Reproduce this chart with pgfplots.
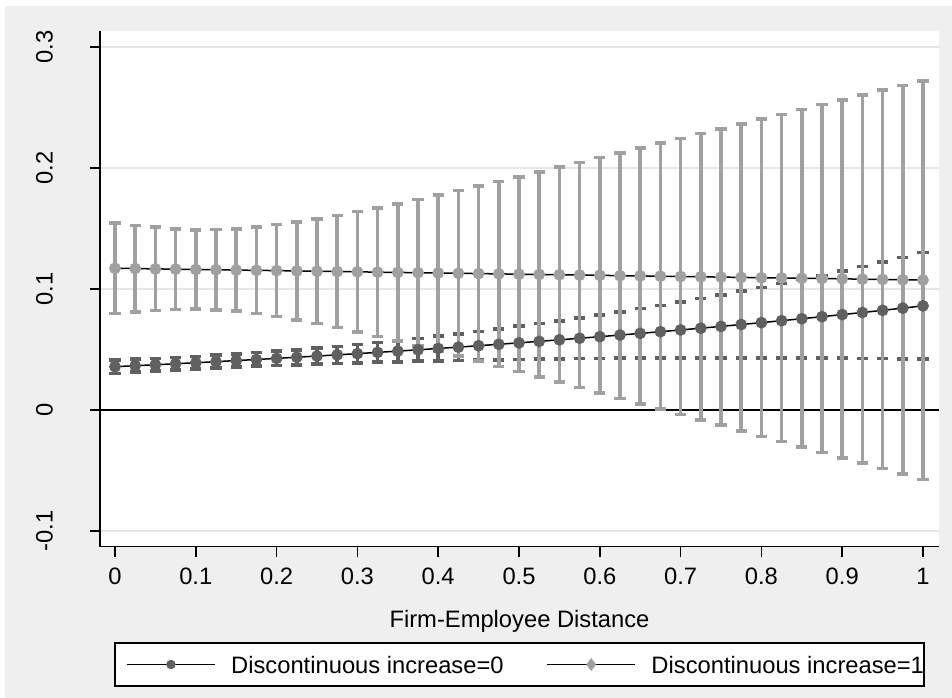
\documentclass[border=0pt]{standalone}
\usepackage{pgfplots}
\pgfplotsset{compat=1.18}
\usepackage{pgfplotstable}
\usepackage{fontspec}
\setmainfont{Liberation Sans}
\definecolor{bggray}{HTML}{EFEFEF}
\definecolor{gridgray}{HTML}{E6E6E6}
\definecolor{gsdark}{HTML}{606060}
\definecolor{gslight}{HTML}{A0A0A0}
\pgfplotstableread{
x m0 e0 m1 e1
0 0.03580 0.00551 0.1171 0.0372
0.025 0.03659 0.00539 0.1169 0.0357
0.05 0.03740 0.00530 0.1166 0.0344
0.075 0.03823 0.00525 0.1164 0.0332
0.1 0.03908 0.00525 0.1161 0.0327
0.125 0.03995 0.00531 0.1159 0.0331
0.15 0.04083 0.00543 0.1156 0.0340
0.175 0.04174 0.00562 0.1154 0.0356
0.2 0.04266 0.00588 0.1152 0.0380
0.225 0.04361 0.00620 0.1149 0.0405
0.25 0.04458 0.00659 0.1147 0.0431
0.275 0.04557 0.00705 0.1144 0.0463
0.3 0.04658 0.00757 0.1142 0.0497
0.325 0.04761 0.00815 0.1139 0.0530
0.35 0.04866 0.00879 0.1137 0.0566
0.375 0.04974 0.00948 0.1135 0.0605
0.4 0.05085 0.01023 0.1132 0.0645
0.425 0.05197 0.01102 0.1130 0.0685
0.45 0.05312 0.01187 0.1127 0.0724
0.475 0.05430 0.01276 0.1125 0.0764
0.5 0.05551 0.01371 0.1122 0.0804
0.525 0.05673 0.01470 0.1120 0.0847
0.55 0.05799 0.01574 0.1118 0.0888
0.575 0.05928 0.01684 0.1115 0.0929
0.6 0.06059 0.01798 0.1113 0.0972
0.625 0.06194 0.01918 0.1110 0.1014
0.65 0.06331 0.02043 0.1108 0.1058
0.675 0.06471 0.02172 0.1106 0.1098
0.7 0.06615 0.02308 0.1103 0.1139
0.725 0.06761 0.02449 0.1101 0.1184
0.75 0.06911 0.02596 0.1098 0.1224
0.775 0.07064 0.02748 0.1096 0.1268
0.8 0.07221 0.02906 0.1093 0.1311
0.825 0.07381 0.03070 0.1091 0.1351
0.85 0.07545 0.03241 0.1089 0.1395
0.875 0.07712 0.03418 0.1086 0.1437
0.9 0.07883 0.03601 0.1084 0.1479
0.925 0.08058 0.03791 0.1081 0.1520
0.95 0.08236 0.03989 0.1079 0.1563
0.975 0.08419 0.04193 0.1076 0.1606
1.0 0.08605 0.04405 0.1074 0.1647
}\datatab
\begin{document}
\begin{tikzpicture}
\useasboundingbox (-50bp,-75.75bp) rectangle (426bp,273.25bp);
\fill[white] (-50bp,-75.75bp) rectangle (426bp,273.25bp);
\fill[bggray] (-47.5bp,-75.75bp) rectangle (426bp,270.25bp);
\begin{axis}[
  at={(0,0)}, anchor=south west,
  scale only axis, width=419.5bp, height=257.75bp,
  xmin=-0.01856, xmax=1.0198, ymin=-0.1128, ymax=0.3132,
  axis background/.style={fill=white},
  axis x line*=bottom, axis y line*=left,
  axis line style={line width=0.75bp, black},
  tick align=outside, major tick length=5bp,
  tick style={line width=0.75bp, black},
  xtick={0,0.1,0.2,0.3,0.4,0.5,0.6,0.7,0.8,0.9,1},
  xticklabels={0,0.1,0.2,0.3,0.4,0.5,0.6,0.7,0.8,0.9,1},
  ytick={-0.1,0,0.1,0.2,0.3},
  yticklabels={-0.1,0,0.1,0.2,0.3},
  ymajorgrids, grid style={gridgray, line width=0.6bp},
  font=\fontsize{11.87bp}{14bp}\selectfont,
  xticklabel style={anchor=north, inner sep=0pt, yshift=-5.75bp},
  yticklabel style={xshift=-18.35bp, rotate=90, anchor=south, inner sep=0pt},
  xlabel={Firm-Employee Distance},
  xlabel style={at={(axis description cs:0.5,0)}, anchor=base, yshift=-40.25bp, inner sep=0pt},
  legend columns=2,
  legend cell align=left,
  legend style={at={(0.5,-0.2289)}, anchor=center, draw=black, line width=0.75bp, fill=white,
    inner xsep=0pt, inner ysep=6.4bp,
    nodes={inner sep=0pt, text height=8.7bp, text depth=0pt},
    /tikz/every even column/.append style={column sep=15.8bp}},
  legend image code/.code={\path (-5.7bp,0) (51.65bp,0);
    \draw[mark repeat=2,mark phase=2,#1] plot coordinates {(0bp,0bp)(21.9bp,0bp)(43.8bp,0bp)};},
]
\addplot[forget plot, black, line width=0.7bp] coordinates {(-0.01856,0) (1.0198,0)};
\addplot[forget plot, gsdark, line width=1.8bp, only marks, mark=none,
  error bars/.cd, y dir=both, y explicit, error mark=|,
  error bar style={gsdark, line width=1.8bp},
  error mark options={gsdark, line width=1.8bp, mark size=2.8bp}]
  table[x=x, y=m0, y error=e0] {\datatab};
\addplot[forget plot, gslight, line width=1.8bp, only marks, mark=none,
  error bars/.cd, y dir=both, y explicit, error mark=|,
  error bar style={gslight, line width=1.8bp},
  error mark options={gslight, line width=1.8bp, mark size=2.8bp}]
  table[x=x, y=m1, y error=e1] {\datatab};
\addplot[black, line width=0.75bp, mark=*, mark size=2.2bp,
  mark options={gsdark, fill=gsdark, line width=0.3bp}]
  table[x=x, y=m0] {\datatab};
\addlegendentry{Discontinuous increase=0}
\addplot[black, line width=0.75bp, mark=diamond*, mark size=3bp,
  mark options={gslight, fill=gslight, line width=0.3bp}]
  table[x=x, y=m1] {\datatab};
\addlegendentry{Discontinuous increase=1\hspace{9.35bp}}
\end{axis}
\end{tikzpicture}
\end{document}
